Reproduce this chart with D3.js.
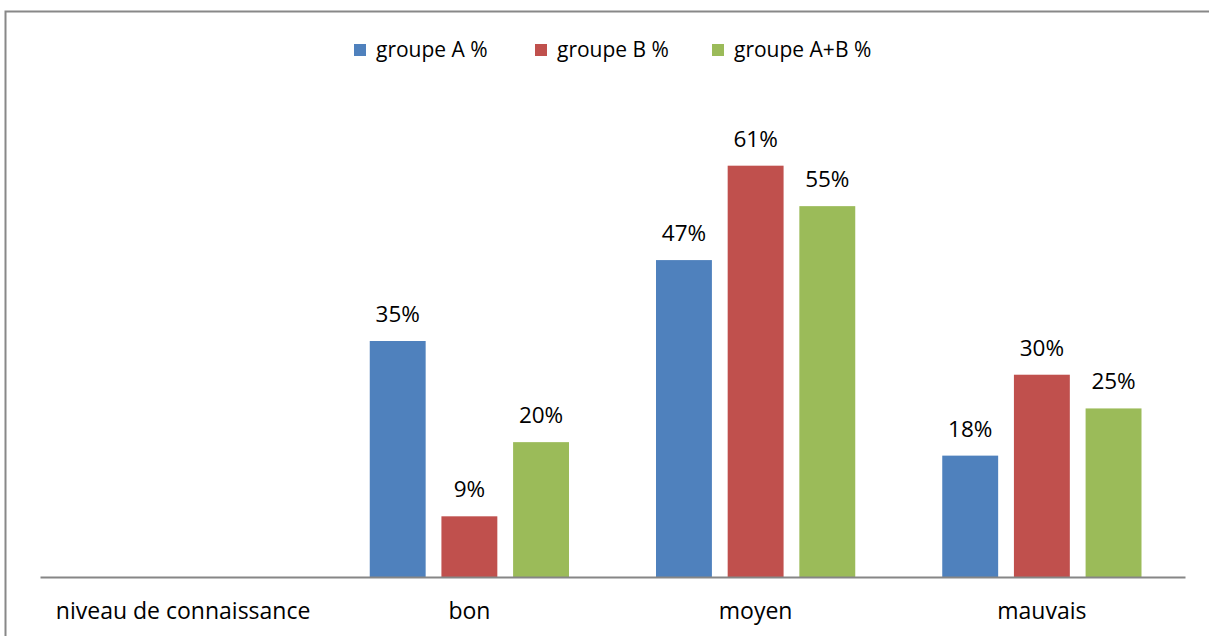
<!DOCTYPE html>
<html>
<head>
<meta charset="utf-8">
<script src="https://cdn.jsdelivr.net/npm/d3@7"></script>
<style>
  body { margin: 0; background: #fff; }
  svg { display: block; font-family: "Open Sans", Lato, sans-serif; }
</style>
</head>
<body>
<svg id="chart" width="1209" height="636"></svg>
<script>
// categories + series (values in %)
const categories = ["niveau de connaissance", "bon", "moyen", "mauvais"];
const seriesNames = ["groupe A %", "groupe B %", "groupe A+B %"];
const groupA = [null, 35, 47, 18];
const groupB = [null, 9, 61, 30];
const groupAB = [null, 20, 55, 25];
const colors = ["#4f81bd", "#c0504d", "#9bbb59"];

const FONT = "'Open Sans', Lato, sans-serif";

let svg = d3.select("#chart");

// outer border of the chart area
svg.append("rect")
  .attr("x", 5.5)
  .attr("y", 11.5)
  .attr("width", 1220)
  .attr("height", 640)
  .attr("fill", "none")
  .attr("stroke", "#888")
  .attr("stroke-width", 2);

let rows = categories.map((c, i) => ({
  cat: c,
  values: [groupA[i], groupB[i], groupAB[i]]
}));

let x0 = d3.scaleBand()
  .domain(categories)
  .range([40, 1185]);

// group of 3 bars sits in the middle of each band
let groupPad = 43.5;
let x1 = d3.scaleBand()
  .domain(d3.range(seriesNames.length))
  .range([groupPad, x0.bandwidth() - groupPad])
  .paddingInner(0.22);

let y = d3.scaleLinear()
  .domain([0, 70])
  .range([577, 105]);

let groups = svg.append("g")
  .selectAll("g")
  .data(rows)
  .join("g")
  .attr("transform", d => `translate(${x0(d.cat)},0)`);

let cells = groups.selectAll("g")
  .data(d => d.values.map((v, i) => ({ v: v, i: i })).filter(e => e.v !== null))
  .join("g");

cells.append("rect")
  .attr("x", d => x1(d.i))
  .attr("width", x1.bandwidth())
  .attr("y", d => y(d.v))
  .attr("height", d => y(0) - y(d.v))
  .attr("fill", d => colors[d.i]);

cells.append("text")
  .attr("x", d => x1(d.i) + x1.bandwidth() / 2)
  .attr("y", d => y(d.v) - 19)
  .attr("text-anchor", "middle")
  .attr("font-size", 22.5)
  .attr("fill", "#000")
  .text(d => d.v + "%");

// baseline + category labels
let axis = d3.axisBottom(x0).tickSize(0).tickPadding(26);
let ax = svg.append("g")
  .attr("transform", "translate(0,577)")
  .call(axis);
ax.select(".domain").attr("stroke", "#868686").attr("stroke-width", 2);
ax.selectAll("text")
  .attr("font-size", 23)
  .attr("font-family", FONT)
  .attr("fill", "#000");

// legend
let legendX = [354, 535, 712];
let legend = svg.append("g")
  .selectAll("g")
  .data(seriesNames)
  .join("g")
  .attr("transform", (d, i) => `translate(${legendX[i]},44)`);

legend.append("rect")
  .attr("width", 12)
  .attr("height", 12)
  .attr("fill", (d, i) => colors[i]);

legend.append("text")
  .attr("x", 22)
  .attr("y", 6)
  .attr("dy", "0.35em")
  .attr("font-size", 21)
  .attr("fill", "#000")
  .text(d => d);
</script>
</body>
</html>
